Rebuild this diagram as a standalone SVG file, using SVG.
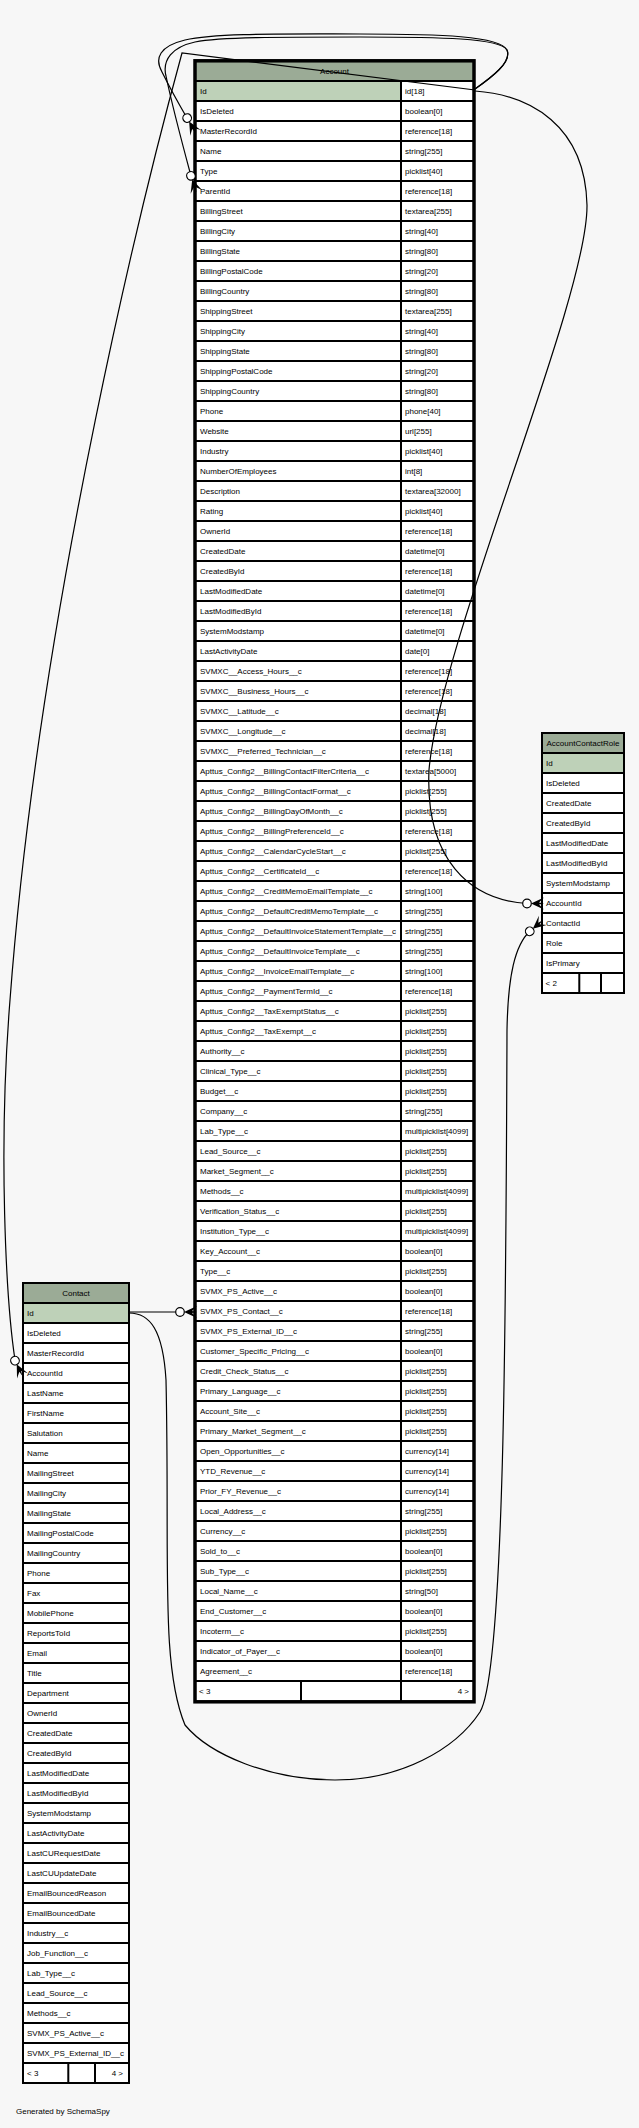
<svg xmlns="http://www.w3.org/2000/svg" xmlns:xlink="http://www.w3.org/1999/xlink" width="639" height="2128" viewBox="0 0 639 2128">
<style>
text{font-family:"Liberation Sans",Arial,Helvetica,sans-serif;font-size:8px;fill:#000}
.c{text-anchor:middle}
.r{text-anchor:end}
.hdr{fill:#9bab96}
.pk{fill:#bed1b8}
.cell{fill:#ffffff}
.grid{fill:none;stroke:#000;stroke-width:2}
.frame{fill:none;stroke:#000;stroke-width:2}
.thick{fill:none;stroke:#000;stroke-width:3.5}
.edge{fill:none;stroke:#000;stroke-width:1.2}
.odot{fill:#fff;stroke:#000;stroke-width:1.2}
</style>
<defs>
<g id="end">
<path d="M-12,0 L1,-6 L-4,-1 L1,0 L-4,1 L1,6 Z" fill="#000"/>
<circle cx="-16" cy="0" r="4.3" class="odot"/>
</g>
</defs>
<rect x="0" y="0" width="639" height="2128" fill="#f7f7f7"/>

<g id="Account">
<rect x="195" y="61" width="279" height="1640" class="cell"/>
<rect x="195" y="61" width="279" height="20" class="hdr"/>
<rect x="195" y="81" width="206" height="20" class="pk"/>
<path class="grid" d="M195,81H474M195,101H474M195,121H474M195,141H474M195,161H474M195,181H474M195,201H474M195,221H474M195,241H474M195,261H474M195,281H474M195,301H474M195,321H474M195,341H474M195,361H474M195,381H474M195,401H474M195,421H474M195,441H474M195,461H474M195,481H474M195,501H474M195,521H474M195,541H474M195,561H474M195,581H474M195,601H474M195,621H474M195,641H474M195,661H474M195,681H474M195,701H474M195,721H474M195,741H474M195,761H474M195,781H474M195,801H474M195,821H474M195,841H474M195,861H474M195,881H474M195,901H474M195,921H474M195,941H474M195,961H474M195,981H474M195,1001H474M195,1021H474M195,1041H474M195,1061H474M195,1081H474M195,1101H474M195,1121H474M195,1141H474M195,1161H474M195,1181H474M195,1201H474M195,1221H474M195,1241H474M195,1261H474M195,1281H474M195,1301H474M195,1321H474M195,1341H474M195,1361H474M195,1381H474M195,1401H474M195,1421H474M195,1441H474M195,1461H474M195,1481H474M195,1501H474M195,1521H474M195,1541H474M195,1561H474M195,1581H474M195,1601H474M195,1621H474M195,1641H474M195,1661H474M195,1681H474M401,81V1701M301,1681V1701"/>
<rect x="195" y="60.8" width="279" height="1641" class="thick"/>
<text x="334.5" y="74.3" class="c">Account</text>
<text y="94"><tspan x="200">Id</tspan><tspan x="405">id[18]</tspan></text>
<text y="114"><tspan x="200">IsDeleted</tspan><tspan x="405">boolean[0]</tspan></text>
<text y="134"><tspan x="200">MasterRecordId</tspan><tspan x="405">reference[18]</tspan></text>
<text y="154"><tspan x="200">Name</tspan><tspan x="405">string[255]</tspan></text>
<text y="174"><tspan x="200">Type</tspan><tspan x="405">picklist[40]</tspan></text>
<text y="194"><tspan x="200">ParentId</tspan><tspan x="405">reference[18]</tspan></text>
<text y="214"><tspan x="200">BillingStreet</tspan><tspan x="405">textarea[255]</tspan></text>
<text y="234"><tspan x="200">BillingCity</tspan><tspan x="405">string[40]</tspan></text>
<text y="254"><tspan x="200">BillingState</tspan><tspan x="405">string[80]</tspan></text>
<text y="274"><tspan x="200">BillingPostalCode</tspan><tspan x="405">string[20]</tspan></text>
<text y="294"><tspan x="200">BillingCountry</tspan><tspan x="405">string[80]</tspan></text>
<text y="314"><tspan x="200">ShippingStreet</tspan><tspan x="405">textarea[255]</tspan></text>
<text y="334"><tspan x="200">ShippingCity</tspan><tspan x="405">string[40]</tspan></text>
<text y="354"><tspan x="200">ShippingState</tspan><tspan x="405">string[80]</tspan></text>
<text y="374"><tspan x="200">ShippingPostalCode</tspan><tspan x="405">string[20]</tspan></text>
<text y="394"><tspan x="200">ShippingCountry</tspan><tspan x="405">string[80]</tspan></text>
<text y="414"><tspan x="200">Phone</tspan><tspan x="405">phone[40]</tspan></text>
<text y="434"><tspan x="200">Website</tspan><tspan x="405">url[255]</tspan></text>
<text y="454"><tspan x="200">Industry</tspan><tspan x="405">picklist[40]</tspan></text>
<text y="474"><tspan x="200">NumberOfEmployees</tspan><tspan x="405">int[8]</tspan></text>
<text y="494"><tspan x="200">Description</tspan><tspan x="405">textarea[32000]</tspan></text>
<text y="514"><tspan x="200">Rating</tspan><tspan x="405">picklist[40]</tspan></text>
<text y="534"><tspan x="200">OwnerId</tspan><tspan x="405">reference[18]</tspan></text>
<text y="554"><tspan x="200">CreatedDate</tspan><tspan x="405">datetime[0]</tspan></text>
<text y="574"><tspan x="200">CreatedById</tspan><tspan x="405">reference[18]</tspan></text>
<text y="594"><tspan x="200">LastModifiedDate</tspan><tspan x="405">datetime[0]</tspan></text>
<text y="614"><tspan x="200">LastModifiedById</tspan><tspan x="405">reference[18]</tspan></text>
<text y="634"><tspan x="200">SystemModstamp</tspan><tspan x="405">datetime[0]</tspan></text>
<text y="654"><tspan x="200">LastActivityDate</tspan><tspan x="405">date[0]</tspan></text>
<text y="674"><tspan x="200">SVMXC__Access_Hours__c</tspan><tspan x="405">reference[18]</tspan></text>
<text y="694"><tspan x="200">SVMXC__Business_Hours__c</tspan><tspan x="405">reference[18]</tspan></text>
<text y="714"><tspan x="200">SVMXC__Latitude__c</tspan><tspan x="405">decimal[18]</tspan></text>
<text y="734"><tspan x="200">SVMXC__Longitude__c</tspan><tspan x="405">decimal[18]</tspan></text>
<text y="754"><tspan x="200">SVMXC__Preferred_Technician__c</tspan><tspan x="405">reference[18]</tspan></text>
<text y="774"><tspan x="200">Apttus_Config2__BillingContactFilterCriteria__c</tspan><tspan x="405">textarea[5000]</tspan></text>
<text y="794"><tspan x="200">Apttus_Config2__BillingContactFormat__c</tspan><tspan x="405">picklist[255]</tspan></text>
<text y="814"><tspan x="200">Apttus_Config2__BillingDayOfMonth__c</tspan><tspan x="405">picklist[255]</tspan></text>
<text y="834"><tspan x="200">Apttus_Config2__BillingPreferenceId__c</tspan><tspan x="405">reference[18]</tspan></text>
<text y="854"><tspan x="200">Apttus_Config2__CalendarCycleStart__c</tspan><tspan x="405">picklist[255]</tspan></text>
<text y="874"><tspan x="200">Apttus_Config2__CertificateId__c</tspan><tspan x="405">reference[18]</tspan></text>
<text y="894"><tspan x="200">Apttus_Config2__CreditMemoEmailTemplate__c</tspan><tspan x="405">string[100]</tspan></text>
<text y="914"><tspan x="200">Apttus_Config2__DefaultCreditMemoTemplate__c</tspan><tspan x="405">string[255]</tspan></text>
<text y="934"><tspan x="200">Apttus_Config2__DefaultInvoiceStatementTemplate__c</tspan><tspan x="405">string[255]</tspan></text>
<text y="954"><tspan x="200">Apttus_Config2__DefaultInvoiceTemplate__c</tspan><tspan x="405">string[255]</tspan></text>
<text y="974"><tspan x="200">Apttus_Config2__InvoiceEmailTemplate__c</tspan><tspan x="405">string[100]</tspan></text>
<text y="994"><tspan x="200">Apttus_Config2__PaymentTermId__c</tspan><tspan x="405">reference[18]</tspan></text>
<text y="1014"><tspan x="200">Apttus_Config2__TaxExemptStatus__c</tspan><tspan x="405">picklist[255]</tspan></text>
<text y="1034"><tspan x="200">Apttus_Config2__TaxExempt__c</tspan><tspan x="405">picklist[255]</tspan></text>
<text y="1054"><tspan x="200">Authority__c</tspan><tspan x="405">picklist[255]</tspan></text>
<text y="1074"><tspan x="200">Clinical_Type__c</tspan><tspan x="405">picklist[255]</tspan></text>
<text y="1094"><tspan x="200">Budget__c</tspan><tspan x="405">picklist[255]</tspan></text>
<text y="1114"><tspan x="200">Company__c</tspan><tspan x="405">string[255]</tspan></text>
<text y="1134"><tspan x="200">Lab_Type__c</tspan><tspan x="405">multipicklist[4099]</tspan></text>
<text y="1154"><tspan x="200">Lead_Source__c</tspan><tspan x="405">picklist[255]</tspan></text>
<text y="1174"><tspan x="200">Market_Segment__c</tspan><tspan x="405">picklist[255]</tspan></text>
<text y="1194"><tspan x="200">Methods__c</tspan><tspan x="405">multipicklist[4099]</tspan></text>
<text y="1214"><tspan x="200">Verification_Status__c</tspan><tspan x="405">picklist[255]</tspan></text>
<text y="1234"><tspan x="200">Institution_Type__c</tspan><tspan x="405">multipicklist[4099]</tspan></text>
<text y="1254"><tspan x="200">Key_Account__c</tspan><tspan x="405">boolean[0]</tspan></text>
<text y="1274"><tspan x="200">Type__c</tspan><tspan x="405">picklist[255]</tspan></text>
<text y="1294"><tspan x="200">SVMX_PS_Active__c</tspan><tspan x="405">boolean[0]</tspan></text>
<text y="1314"><tspan x="200">SVMX_PS_Contact__c</tspan><tspan x="405">reference[18]</tspan></text>
<text y="1334"><tspan x="200">SVMX_PS_External_ID__c</tspan><tspan x="405">string[255]</tspan></text>
<text y="1354"><tspan x="200">Customer_Specific_Pricing__c</tspan><tspan x="405">boolean[0]</tspan></text>
<text y="1374"><tspan x="200">Credit_Check_Status__c</tspan><tspan x="405">picklist[255]</tspan></text>
<text y="1394"><tspan x="200">Primary_Language__c</tspan><tspan x="405">picklist[255]</tspan></text>
<text y="1414"><tspan x="200">Account_Site__c</tspan><tspan x="405">picklist[255]</tspan></text>
<text y="1434"><tspan x="200">Primary_Market_Segment__c</tspan><tspan x="405">picklist[255]</tspan></text>
<text y="1454"><tspan x="200">Open_Opportunities__c</tspan><tspan x="405">currency[14]</tspan></text>
<text y="1474"><tspan x="200">YTD_Revenue__c</tspan><tspan x="405">currency[14]</tspan></text>
<text y="1494"><tspan x="200">Prior_FY_Revenue__c</tspan><tspan x="405">currency[14]</tspan></text>
<text y="1514"><tspan x="200">Local_Address__c</tspan><tspan x="405">string[255]</tspan></text>
<text y="1534"><tspan x="200">Currency__c</tspan><tspan x="405">picklist[255]</tspan></text>
<text y="1554"><tspan x="200">Sold_to__c</tspan><tspan x="405">boolean[0]</tspan></text>
<text y="1574"><tspan x="200">Sub_Type__c</tspan><tspan x="405">picklist[255]</tspan></text>
<text y="1594"><tspan x="200">Local_Name__c</tspan><tspan x="405">string[50]</tspan></text>
<text y="1614"><tspan x="200">End_Customer__c</tspan><tspan x="405">boolean[0]</tspan></text>
<text y="1634"><tspan x="200">Incoterm__c</tspan><tspan x="405">picklist[255]</tspan></text>
<text y="1654"><tspan x="200">Indicator_of_Payer__c</tspan><tspan x="405">boolean[0]</tspan></text>
<text y="1674"><tspan x="200">Agreement__c</tspan><tspan x="405">reference[18]</tspan></text>
<text x="199" y="1694">&lt; 3</text>
<text x="469" y="1694" class="r">4 &gt;</text>
</g>

<g id="AccountContactRole">
<rect x="542" y="733" width="82" height="260" class="cell"/>
<rect x="542" y="733" width="82" height="20" class="hdr"/>
<rect x="542" y="753" width="82" height="20" class="pk"/>
<path class="grid" d="M542,753H624M542,773H624M542,793H624M542,813H624M542,833H624M542,853H624M542,873H624M542,893H624M542,913H624M542,933H624M542,953H624M542,973H624M579.3,973V993M601,973V993"/>
<rect x="542" y="733" width="82" height="260" class="frame"/>
<text x="583" y="746.3" class="c">AccountContactRole</text>
<text x="546" y="766.3">Id</text>
<text x="546" y="786.3">IsDeleted</text>
<text x="546" y="806.3">CreatedDate</text>
<text x="546" y="826.3">CreatedById</text>
<text x="546" y="846.3">LastModifiedDate</text>
<text x="546" y="866.3">LastModifiedById</text>
<text x="546" y="886.3">SystemModstamp</text>
<text x="546" y="906.3">AccountId</text>
<text x="546" y="926.3">ContactId</text>
<text x="546" y="946.3">Role</text>
<text x="546" y="966.3">IsPrimary</text>
<text x="545.5" y="986.3">&lt; 2</text>
</g>

<g id="Contact">
<rect x="23" y="1283" width="106" height="800" class="cell"/>
<rect x="23" y="1283" width="106" height="20" class="hdr"/>
<rect x="23" y="1303" width="106" height="20" class="pk"/>
<path class="grid" d="M23,1303H129M23,1323H129M23,1343H129M23,1363H129M23,1383H129M23,1403H129M23,1423H129M23,1443H129M23,1463H129M23,1483H129M23,1503H129M23,1523H129M23,1543H129M23,1563H129M23,1583H129M23,1603H129M23,1623H129M23,1643H129M23,1663H129M23,1683H129M23,1703H129M23,1723H129M23,1743H129M23,1763H129M23,1783H129M23,1803H129M23,1823H129M23,1843H129M23,1863H129M23,1883H129M23,1903H129M23,1923H129M23,1943H129M23,1963H129M23,1983H129M23,2003H129M23,2023H129M23,2043H129M23,2063H129M68.3,2063V2083M95,2063V2083"/>
<rect x="23" y="1283" width="106" height="800" class="frame"/>
<text x="76" y="1296" class="c">Contact</text>
<text x="27" y="1316">Id</text>
<text x="27" y="1336">IsDeleted</text>
<text x="27" y="1356">MasterRecordId</text>
<text x="27" y="1376">AccountId</text>
<text x="27" y="1396">LastName</text>
<text x="27" y="1416">FirstName</text>
<text x="27" y="1436">Salutation</text>
<text x="27" y="1456">Name</text>
<text x="27" y="1476">MailingStreet</text>
<text x="27" y="1496">MailingCity</text>
<text x="27" y="1516">MailingState</text>
<text x="27" y="1536">MailingPostalCode</text>
<text x="27" y="1556">MailingCountry</text>
<text x="27" y="1576">Phone</text>
<text x="27" y="1596">Fax</text>
<text x="27" y="1616">MobilePhone</text>
<text x="27" y="1636">ReportsToId</text>
<text x="27" y="1656">Email</text>
<text x="27" y="1676">Title</text>
<text x="27" y="1696">Department</text>
<text x="27" y="1716">OwnerId</text>
<text x="27" y="1736">CreatedDate</text>
<text x="27" y="1756">CreatedById</text>
<text x="27" y="1776">LastModifiedDate</text>
<text x="27" y="1796">LastModifiedById</text>
<text x="27" y="1816">SystemModstamp</text>
<text x="27" y="1836">LastActivityDate</text>
<text x="27" y="1856">LastCURequestDate</text>
<text x="27" y="1876">LastCUUpdateDate</text>
<text x="27" y="1896">EmailBouncedReason</text>
<text x="27" y="1916">EmailBouncedDate</text>
<text x="27" y="1936">Industry__c</text>
<text x="27" y="1956">Job_Function__c</text>
<text x="27" y="1976">Lab_Type__c</text>
<text x="27" y="1996">Lead_Source__c</text>
<text x="27" y="2016">Methods__c</text>
<text x="27" y="2036">SVMX_PS_Active__c</text>
<text x="27" y="2056">SVMX_PS_External_ID__c</text>
<text x="27" y="2076">&lt; 3</text>
<text x="123" y="2076" class="r">4 &gt;</text>
</g>

<g id="connectors">
<path class="edge" d="M475,89 C492,77 512,62 507,50 C500,36 440,34 360,34 C280,34 215,33 185,40 C160,46 154,58 162,72 C170,88 180,106 187,118"/>
<path class="edge" d="M475,89 C492,77 512,62 507,50 C500,38 440,37 360,37 C280,37 220,37 195,42 C172,47 162,60 166,76 C172,105 184,150 191,176"/>
<path class="edge" d="M475,90 L182,53 C150,170 40,600 10,1000 C-2,1150 6,1300 15,1360"/>
<path class="edge" d="M475,91 C530,95 585,125 587,205 C588,300 440,640 429,770 C425,860 470,900 527,903.5"/>
<path class="edge" d="M129,1312 L180,1312"/>
<path class="edge" d="M129,1313 C150,1313 163,1330 166,1380 C170,1560 160,1665 185,1725 C210,1755 270,1780 335,1780 C400,1780 455,1750 480,1712 C505,1670 506,1300 507,1030 C508,975 515,945 530,931"/>
<use xlink:href="#end" transform="translate(195,132) rotate(60.7)"/>
<use xlink:href="#end" transform="translate(196,191) rotate(71.6)"/>
<use xlink:href="#end" transform="translate(22,1375) rotate(64)"/>
<use xlink:href="#end" transform="translate(196,1312)"/>
<use xlink:href="#end" transform="translate(543,903.5)"/>
<use xlink:href="#end" transform="translate(542,921) rotate(-40)"/>
</g>

<text x="16" y="2114">Generated by SchemaSpy</text>
</svg>
